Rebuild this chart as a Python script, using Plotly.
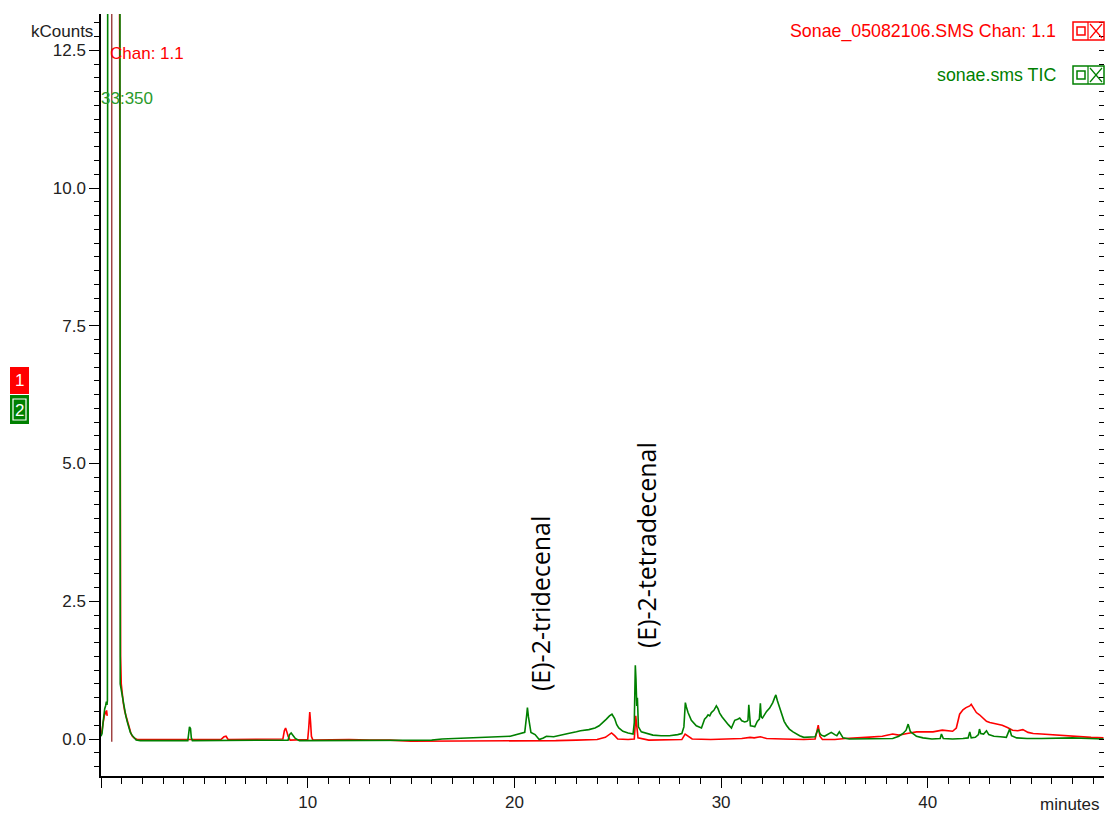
import plotly.graph_objects as go

# ---------------- data ----------------
tic_time = [0.00, 0.05, 0.10, 0.14, 0.18, 0.22, 0.26, 0.29, 0.31, 0.33, 0.91, 0.93,
            1.00, 1.05, 1.12, 1.20, 1.28, 1.36, 1.42, 1.50, 1.58, 1.70, 1.90,
            2.5, 3.2, 3.8, 4.20, 4.25, 4.28, 4.33, 4.37, 4.42, 5.5, 6.5, 7.5, 8.5,
            9.05, 9.12, 9.20, 9.30, 9.40, 9.60, 10.5, 12.0, 13.5, 15.0, 16.0, 16.5,
            17.5, 18.5, 19.2, 19.8, 20.3, 20.5, 20.6, 20.63, 20.68, 20.74, 20.8, 21.0,
            21.2, 21.4, 21.55, 21.9, 22.2, 22.6, 23.0, 23.2, 23.6, 23.9, 24.1, 24.3,
            24.45, 24.6, 24.72, 24.85, 24.95, 25.05, 25.25, 25.5, 25.74, 25.8, 25.85,
            25.88, 25.92, 25.95, 26.0, 26.14, 26.4, 26.7, 27.1, 27.5, 27.9, 28.1, 28.2,
            28.27, 28.32, 28.4, 28.56, 28.8, 29.05, 29.2, 29.3, 29.37, 29.45, 29.53,
            29.65, 29.77, 29.85, 29.93, 30.05, 30.17, 30.35, 30.5, 30.6, 30.66, 30.8,
            30.9, 31.0, 31.14, 31.25, 31.3, 31.34, 31.38, 31.42, 31.55, 31.63, 31.75,
            31.85, 31.9, 31.94, 32.0, 32.1, 32.2, 32.35, 32.5, 32.6, 32.65, 32.72, 32.8,
            32.92, 33.05, 33.16, 33.3, 33.48, 33.65, 33.8, 34.0, 34.3, 34.55, 34.65,
            34.7, 34.78, 34.85, 35.0, 35.1, 35.33, 35.5, 35.6, 35.72, 35.8, 35.9, 36.2,
            37.0, 37.8, 38.3, 38.6, 38.8, 38.95, 39.05, 39.15, 39.2, 39.35, 39.45,
            39.77, 40.2, 40.6, 40.66, 40.75, 41.2, 41.7, 41.95, 42.03, 42.1, 42.3,
            42.45, 42.5, 42.56, 42.7, 42.84, 42.95, 43.2, 43.5, 43.8, 43.96, 44.05,
            44.3, 44.8, 45.5, 46.3, 47.0, 47.8, 48.5]
tic_kcounts = [0.05, 0.10, 0.30, 0.45, 0.55, 0.60, 0.68, 0.62, 0.70, 20.0, 20.0, 1.00,
               0.85, 0.70, 0.55, 0.42, 0.30, 0.18, 0.12, 0.07, 0.03, -0.02, -0.03,
               -0.03, -0.02, -0.03, -0.03, 0.12, 0.22, 0.19, 0.02, -0.03, -0.03, -0.02, -0.03, -0.03,
               -0.02, 0.08, 0.11, 0.06, 0.01, -0.03, -0.03, -0.03, -0.02, -0.03, -0.02, 0.00,
               0.01, 0.02, 0.04, 0.05, 0.10, 0.12, 0.45, 0.57, 0.40, 0.25, 0.12, 0.08,
               -0.01, 0.02, 0.05, 0.04, 0.07, 0.10, 0.13, 0.15, 0.17, 0.20, 0.24, 0.30,
               0.36, 0.42, 0.45, 0.37, 0.26, 0.20, 0.14, 0.11, 0.09, 0.30, 1.34,
               1.10, 0.60, 0.75, 0.22, 0.13, 0.10, 0.07, 0.06, 0.06, 0.08, 0.10, 0.22,
               0.66, 0.58, 0.48, 0.34, 0.24, 0.20, 0.36, 0.40, 0.44, 0.42, 0.48,
               0.52, 0.60, 0.55, 0.47, 0.40, 0.34, 0.26, 0.20, 0.28, 0.34, 0.36,
               0.38, 0.33, 0.31, 0.32, 0.34, 0.62, 0.30, 0.24, 0.23, 0.22, 0.32,
               0.36, 0.65, 0.40, 0.38, 0.44, 0.50, 0.56, 0.66, 0.76, 0.80, 0.70, 0.60,
               0.44, 0.32, 0.25, 0.18, 0.13, 0.09, 0.06, 0.03, 0.03, 0.04, 0.14,
               0.18, 0.10, 0.07, 0.05, 0.07, 0.12, 0.08, 0.06, 0.13, 0.07, 0.02, 0.00,
               0.00, 0.01, 0.01, 0.05, 0.10, 0.16, 0.27, 0.14, 0.12, 0.08, 0.05,
               0.02, 0.00, 0.01, 0.09, 0.01, 0.00, 0.01, 0.02, 0.13, 0.02, 0.03,
               0.08, 0.18, 0.10, 0.09, 0.15, 0.08, 0.05, 0.04, 0.03, 0.18, 0.06,
               0.02, 0.01, 0.01, 0.02, 0.02, 0.01, 0.00]

chan_time = [0.00, 0.05, 0.10, 0.15, 0.20, 0.24, 0.27, 0.30, 0.31, 0.87, 0.93, 0.95,
             0.98, 1.02, 1.08, 1.15, 1.22, 1.30, 1.38, 1.45, 1.52, 1.60, 1.75,
             2.5, 3.0, 3.5, 4.0, 4.3, 5.0, 5.8, 5.95, 6.05, 6.15, 7.0, 8.0, 8.8, 8.87,
             8.93, 9.0, 9.05, 9.15, 9.5, 10.0, 10.05, 10.1, 10.14, 10.18, 10.25, 11.0,
             12.0, 13.0, 14.0, 15.0, 16.0, 17.0, 18.0, 19.0, 20.0, 21.0, 22.0, 23.0,
             24.0, 24.4, 24.7, 24.85, 25.0, 25.5, 25.8, 25.87, 25.92, 25.98, 26.5, 27.5,
             28.1, 28.26, 28.4, 28.6, 29.5, 30.5, 31.0, 31.4, 31.6, 31.9, 32.2, 33.0,
             34.0, 34.55, 34.65, 34.7, 34.78, 34.9, 35.5, 36.0, 37.0, 37.8, 38.3, 38.6,
             39.0, 39.45, 40.25, 40.7, 41.2, 41.38, 41.54, 41.7, 41.85, 42.03, 42.1,
             42.2, 42.35, 42.5, 42.65, 42.84, 43.0, 43.3, 43.6, 43.85, 44.1, 44.35,
             44.6, 44.85, 45.1, 45.5, 45.9, 46.3, 46.7, 47.1, 47.5, 47.9, 48.5]
chan_kcounts = [0.08, 0.15, 0.29, 0.40, 0.50, 0.45, 0.52, 0.42, None, 20.0, 1.90, 1.50,
                1.00, 0.85, 0.65, 0.50, 0.40, 0.30, 0.18, 0.10, 0.05, 0.02, -0.01,
                -0.01, -0.02, -0.01, -0.01, -0.02, -0.01, -0.01, 0.04, 0.05, -0.01, -0.01, -0.01, 0.00, 0.15,
                0.20, 0.12, 0.05, -0.02, -0.02, -0.01, 0.20, 0.49, 0.30, 0.05, -0.02, -0.01,
                -0.01, -0.02, -0.02, -0.04, -0.04, -0.04, -0.04, -0.04, -0.04, -0.03, -0.03, -0.02,
                -0.01, 0.03, 0.11, 0.06, 0.00, -0.01, 0.00, 0.42, 0.20, 0.02, -0.02, -0.02,
                -0.01, 0.09, 0.05, 0.00, -0.01, 0.00, 0.01, 0.03, 0.02, 0.04, 0.01, 0.00,
                -0.01, 0.00, 0.15, 0.25, 0.05, -0.01, -0.01, 0.01, 0.03, 0.05, 0.09, 0.07,
                0.10, 0.13, 0.13, 0.16, 0.14, 0.20, 0.45, 0.53, 0.57, 0.60, 0.63,
                0.57, 0.48, 0.44, 0.38, 0.32, 0.30, 0.28, 0.25, 0.21, 0.16, 0.15,
                0.17, 0.12, 0.10, 0.09, 0.08, 0.06, 0.05, 0.05, 0.04, 0.03, 0.02]

marker_time = [0.52, 0.52]
marker_kcounts = [-0.05, 20.0]

y_tickvals = [0.0, 2.5, 5.0, 7.5, 10.0, 12.5]
y_ticktext = ["0.0", "2.5", "5.0", "7.5", "10.0", "12.5"]
x_tickvals = [0, 10, 20, 30, 40]
x_ticktext = ["", "10", "20", "30", "40"]

peak_names = ["(E)-2-tridecenal", "(E)-2-tetradecenal"]
peak_label_x = [21.24, 26.37]
peak_label_y = [2.45, 3.52]

# ---------------- layout geometry ----------------
W, H = 1109, 816
L, R, T, B = 101, 5, 14, 40
PW, PH = W - L - R, H - T - B


def px(x):
    return (x - L) / PW


def py(y):
    return (H - B - y) / PH


RED = "#FF0000"
GREEN = "#008000"
BROWN = "#9B3A3A"
TXT = "#222222"
FONT = "Liberation Sans, Arial, sans-serif"

fig = go.Figure()
fig.add_trace(go.Scatter(x=chan_time, y=chan_kcounts, mode="lines", connectgaps=False,
                         line=dict(color=RED, width=1.6), name="Sonae_05082106.SMS Chan: 1.1",
                         showlegend=False))
fig.add_trace(go.Scatter(x=tic_time, y=tic_kcounts, mode="lines",
                         line=dict(color=GREEN, width=1.6), name="sonae.sms TIC",
                         showlegend=False))
fig.add_trace(go.Scatter(x=marker_time, y=marker_kcounts, mode="lines",
                         line=dict(color=BROWN, width=1.4), showlegend=False, hoverinfo="skip"))
fig.add_trace(go.Scatter(x=[None], y=[None], yaxis="y2", showlegend=False, hoverinfo="skip"))

for name, lx, ly in zip(peak_names, peak_label_x, peak_label_y):
    fig.add_annotation(x=lx, y=ly, xref="x", yref="y", text=name, textangle=-90,
                       showarrow=False, font=dict(family="Open Sans", size=25, color="black"))

anns = [
    dict(x=px(95), y=py(31), text="kCounts", xanchor="right", color=TXT, size=17),
    dict(x=px(1102), y=py(804), text="minutes", xanchor="right", color=TXT, size=17),
    dict(x=px(108), y=py(53), text="Chan: 1.1", xanchor="left", color=RED, size=17),
    dict(x=px(99), y=py(98), text="33:350", xanchor="left", color="#2a9a2a", size=17),
    dict(x=px(1058), y=py(31), text="Sonae_05082106.SMS Chan: 1.1", xanchor="right", color=RED, size=17.8),
    dict(x=px(1058), y=py(75), text="sonae.sms TIC", xanchor="right", color=GREEN, size=17.8),
]
for a in anns:
    fig.add_annotation(x=a["x"], y=a["y"], xref="paper", yref="paper", text=a["text"],
                       xanchor=a["xanchor"], yanchor="middle", showarrow=False,
                       font=dict(family=FONT, size=a["size"], color=a["color"]))

# side channel boxes
fig.add_shape(type="rect", xref="paper", yref="paper", x0=px(10), x1=px(29), y0=py(394), y1=py(367),
              fillcolor=RED, line=dict(width=0))
fig.add_shape(type="rect", xref="paper", yref="paper", x0=px(10), x1=px(29), y0=py(424), y1=py(395),
              fillcolor=GREEN, line=dict(width=0))
fig.add_shape(type="rect", xref="paper", yref="paper", x0=px(13), x1=px(26), y0=py(420), y1=py(399),
              fillcolor="rgba(0,0,0,0)", line=dict(color="white", width=1.2))
fig.add_annotation(x=px(19.5), y=py(381), xref="paper", yref="paper", text="1", showarrow=False,
                   xanchor="center", yanchor="middle",
                   font=dict(family=FONT, size=17, color="white"))
fig.add_annotation(x=px(19.5), y=py(410), xref="paper", yref="paper", text="2", showarrow=False,
                   xanchor="center", yanchor="middle",
                   font=dict(family=FONT, size=17, color="white"))

# legend icons
for col, (ya, yb) in ((RED, (22, 40)), (GREEN, (66, 84))):
    fig.add_shape(type="rect", xref="paper", yref="paper", x0=px(1073), x1=px(1104), y0=py(yb), y1=py(ya),
                  line=dict(color=col, width=1.5), fillcolor="rgba(0,0,0,0)")
    fig.add_shape(type="rect", xref="paper", yref="paper", x0=px(1077), x1=px(1085),
                  y0=py((ya + yb) / 2 + 4), y1=py((ya + yb) / 2 - 4),
                  line=dict(color=col, width=1.5), fillcolor="rgba(0,0,0,0)")
    fig.add_shape(type="line", xref="paper", yref="paper", x0=px(1088), x1=px(1088), y0=py(yb), y1=py(ya),
                  line=dict(color=col, width=1.2))
    fig.add_shape(type="line", xref="paper", yref="paper", x0=px(1090), x1=px(1102), y0=py(yb - 2), y1=py(ya + 2),
                  line=dict(color=col, width=1.2))
    fig.add_shape(type="line", xref="paper", yref="paper", x0=px(1090), x1=px(1102), y0=py(ya + 2), y1=py(yb - 2),
                  line=dict(color=col, width=1.2))

y_range = [(739 - 776) / 55.1, (739 - 14) / 55.1]

fig.update_layout(
    width=W, height=H, margin=dict(l=L, r=R, t=T, b=B),
    paper_bgcolor="white", plot_bgcolor="white",
    font=dict(family=FONT, size=17, color=TXT),
    showlegend=False,
    xaxis=dict(range=[0, PW / 20.67], showgrid=False, zeroline=False,
               showline=True, linecolor="black", linewidth=1.5,
               tickmode="array", tickvals=x_tickvals, ticktext=x_ticktext,
               ticks="outside", ticklen=10, tickwidth=1, tickcolor="black",
               minor=dict(dtick=1, tick0=0, ticks="outside", ticklen=6, tickwidth=1, tickcolor="black"),
               tickfont=dict(family=FONT, size=17, color=TXT)),
    yaxis=dict(range=y_range, showgrid=False, zeroline=False,
               showline=True, linecolor="black", linewidth=1.5,
               tickmode="array", tickvals=y_tickvals, ticktext=y_ticktext,
               ticks="outside", ticklen=10, tickwidth=1, tickcolor="black",
               minor=dict(dtick=0.25, tick0=0, ticks="outside", ticklen=5, tickwidth=1, tickcolor="black"),
               tickfont=dict(family=FONT, size=17, color=TXT)),
    yaxis2=dict(overlaying="y", side="right", matches="y", anchor="x", showgrid=False, zeroline=False,
                showline=False, showticklabels=False,
                tickmode="array", tickvals=y_tickvals,
                ticks="inside", ticklen=5, tickwidth=1, tickcolor="black",
                minor=dict(dtick=0.25, tick0=0, ticks="inside", ticklen=5, tickwidth=1, tickcolor="black")),
)

fig.write_html("out.html")
